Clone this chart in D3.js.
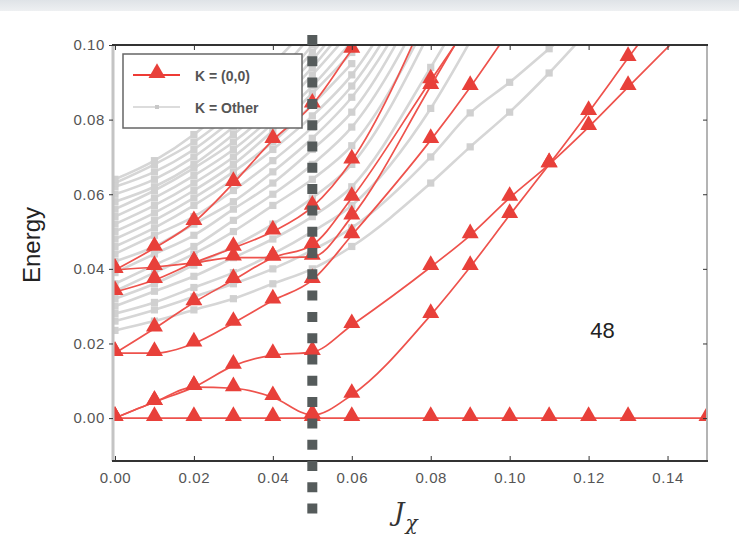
<!DOCTYPE html>
<meta charset="utf-8">
<style>
body { margin: 0; background: #fff; }
text { font-family: "Liberation Sans", Arial, sans-serif; }
.axis .tick text { fill: #555; font-size: 15px; letter-spacing: 0.6px; }
.axis .tick line { stroke: #333; }
.axis .domain { display: none; }
.gline { fill: none; stroke: #d6d6d6; stroke-width: 2.6px; }
.rline { fill: none; stroke: #ee524c; stroke-width: 1.7px; }
</style>
<svg width="739" height="544"></svg>
<script src="https://cdn.jsdelivr.net/npm/d3@7/dist/d3.min.js"></script>
<script>

// J_chi sample points (0.07 and 0.14 were not computed)
var jx = [0, 0.01, 0.02, 0.03, 0.04, 0.05, 0.06, 0.08, 0.09, 0.10, 0.11, 0.12, 0.13, 0.15];
var xTicks = [0, 0.02, 0.04, 0.06, 0.08, 0.10, 0.12, 0.14];
var yTicks = [0, 0.02, 0.04, 0.06, 0.08, 0.10];

// K = (0,0) levels
var redLevels = [
  [0, 0, 0, 0, 0, 0, 0, 0, 0, 0, 0, 0, 0, 0],
  [0, 0.0043, 0.0083, 0.008, 0.0056, 0.0008, 0.0062, 0.0276, 0.0405, 0.0544, 0.068, 0.082, 0.0965, 0.125],
  [0, 0.0043, 0.0083, 0.014, 0.0169, 0.0177, 0.0249, 0.0405, 0.049, 0.059, 0.068, 0.078, 0.0887, 0.11],
  [0.0174, 0.0174, 0.020, 0.0255, 0.0315, 0.037, 0.049, 0.0745, 0.0887, 0.104],
  [0.0174, 0.024, 0.031, 0.037, 0.043, 0.0464, 0.059, 0.0905, 0.106],
  [0.0397, 0.0405, 0.0416, 0.043, 0.043, 0.0432, 0.054, 0.089, 0.107],
  [0.0338, 0.037, 0.0416, 0.0456, 0.050, 0.0566, 0.069, 0.111],
  [0.0397, 0.0456, 0.0525, 0.063, 0.0745, 0.084, 0.0987, 0.125]
];

// K = other levels
var grayLevels = [
  [0.0235, 0.026, 0.029, 0.032, 0.036, 0.040, 0.046, 0.063, 0.0727, 0.082, 0.0925, 0.104],
  [0.026, 0.029, 0.0325, 0.036, 0.040, 0.045, 0.051, 0.070, 0.0818, 0.090, 0.099, 0.108],
  [0.028, 0.031, 0.035, 0.039, 0.044, 0.050, 0.057, 0.083, 0.101],
  [0.030, 0.034, 0.038, 0.043, 0.048, 0.054, 0.062, 0.094, 0.112],
  [0.032, 0.036, 0.041, 0.046, 0.052, 0.059, 0.068, 0.104],
  [0.034, 0.039, 0.044, 0.050, 0.057, 0.064, 0.073, 0.108],
  [0.036, 0.041, 0.046, 0.053, 0.060, 0.068, 0.078, 0.113],
  [0.039, 0.044, 0.049, 0.056, 0.063, 0.072, 0.082, 0.118],
  [0.042, 0.046, 0.052, 0.058, 0.066, 0.075, 0.086, 0.120],
  [0.044, 0.049, 0.054, 0.061, 0.069, 0.078, 0.089, 0.124],
  [0.046, 0.051, 0.057, 0.064, 0.072, 0.081, 0.092, 0.128],
  [0.048, 0.053, 0.059, 0.066, 0.074, 0.084, 0.095],
  [0.050, 0.055, 0.061, 0.068, 0.077, 0.087, 0.098],
  [0.052, 0.057, 0.063, 0.070, 0.079, 0.089, 0.101],
  [0.054, 0.059, 0.065, 0.072, 0.081, 0.092, 0.104],
  [0.056, 0.061, 0.067, 0.074, 0.083, 0.094, 0.107],
  [0.058, 0.062, 0.068, 0.076, 0.085, 0.096, 0.109],
  [0.060, 0.064, 0.070, 0.078, 0.087, 0.098, 0.111],
  [0.062, 0.066, 0.072, 0.080, 0.088, 0.100],
  [0.063, 0.068, 0.074, 0.082, 0.091, 0.103],
  [0.064, 0.069, 0.076, 0.085, 0.095, 0.106]
];

var transition = 0.05;
var sizeLabel = "48";

var svg = d3.select("svg"),
    margin = {top: 45, left: 113},
    width = 594,
    height = 416;

// faint band at the very top of the screenshot
var defs = svg.append("defs");
var grad = defs.append("linearGradient")
    .attr("id", "topband").attr("x1", 0).attr("x2", 0).attr("y1", 0).attr("y2", 1);
grad.append("stop").attr("offset", 0).attr("stop-color", "#dfe3e7");
grad.append("stop").attr("offset", 1).attr("stop-color", "#eef0f2");
svg.append("rect").attr("width", 739).attr("height", 11).attr("fill", "url(#topband)");

defs.append("clipPath").attr("id", "plotclip")
  .append("rect").attr("width", width).attr("height", height);

var g = svg.append("g").attr("transform", "translate(" + margin.left + "," + margin.top + ")");

var x = d3.scaleLinear().domain([-0.0005, 0.15]).range([0, width]),
    y = d3.scaleLinear().domain([-0.0115, 0.10]).range([height, 0]);

function toPoints(vals) {
  return vals.map(function(v, i) { return {x: jx[i], e: v}; });
}

var line = d3.line()
    .curve(d3.curveMonotoneX)
    .x(function(d) { return x(d.x); })
    .y(function(d) { return y(d.e); });

var plot = g.append("g").attr("clip-path", "url(#plotclip)");

// gray levels
var gs = plot.selectAll(".gset").data(grayLevels.map(toPoints)).enter().append("g");
gs.append("path").attr("class", "gline").attr("d", line);
gs.selectAll("path.sq").data(function(d) { return d; }).enter().append("path")
    .attr("class", "sq")
    .attr("d", d3.symbol(d3.symbolSquare, 52))
    .attr("fill", "#d0d0d0")
    .attr("transform", function(d) { return "translate(" + x(d.x) + "," + y(d.e) + ")"; });

// red levels
var rs = plot.selectAll(".rset").data(redLevels.map(toPoints)).enter().append("g");
rs.append("path").attr("class", "rline").attr("d", line);
var tri = d3.symbol(d3.symbolTriangle, 125);
rs.selectAll("path.tri").data(function(d) { return d; }).enter().append("path")
    .attr("class", "tri")
    .attr("d", tri)
    .attr("fill", "#e8403a")
    .attr("transform", function(d) { return "translate(" + x(d.x) + "," + (y(d.e) - 2) + ")"; });

// frame
g.append("line").attr("x1", 0).attr("x2", 0).attr("y1", 0).attr("y2", height)
    .attr("stroke", "#c4c4c4").attr("stroke-width", 3);
g.append("line").attr("x1", width).attr("x2", width).attr("y1", 0).attr("y2", height)
    .attr("stroke", "#b4b4b4").attr("stroke-width", 2);
g.append("line").attr("x1", -1).attr("x2", width + 1).attr("y1", 0).attr("y2", 0)
    .attr("stroke", "#333").attr("stroke-width", 2.2);
g.append("line").attr("x1", -1).attr("x2", width + 1).attr("y1", height).attr("y2", height)
    .attr("stroke", "#333").attr("stroke-width", 2.2);

// axes
g.append("g").attr("class", "axis")
    .attr("transform", "translate(0," + height + ")")
    .call(d3.axisBottom(x).tickValues(xTicks).tickFormat(d3.format(".2f"))
      .tickSizeInner(-5).tickSizeOuter(0).tickPadding(11));
g.append("g").attr("class", "axis")
    .call(d3.axisTop(x).tickValues(xTicks).tickFormat("").tickSizeInner(-5).tickSizeOuter(0));
g.append("g").attr("class", "axis")
    .call(d3.axisLeft(y).tickValues(yTicks).tickFormat(d3.format(".2f"))
      .tickSizeInner(4).tickSizeOuter(0).tickPadding(4));
g.append("g").attr("class", "axis")
    .attr("transform", "translate(" + width + ",0)")
    .call(d3.axisRight(y).tickValues(yTicks).tickFormat("").tickSizeInner(-4).tickSizeOuter(0));

// axis titles
svg.append("text")
    .attr("transform", "translate(40," + 245 + ") rotate(-90)")
    .attr("text-anchor", "middle")
    .attr("fill", "#222")
    .style("font-size", "24px")
    .text("Energy");

var xl = svg.append("text")
    .attr("x", 394).attr("y", 521)
    .attr("fill", "#333")
    .style("font-family", "'DejaVu Serif', 'Liberation Serif', serif")
    .style("font-style", "italic");
xl.append("tspan").style("font-size", "26px").text("J");
xl.append("tspan").attr("dy", 9).attr("dx", 1).style("font-size", "20px").text("\u03c7");

// system size label
g.append("text")
    .attr("x", x(0.1235)).attr("y", y(0.0215))
    .attr("text-anchor", "middle")
    .attr("fill", "#222")
    .style("font-size", "22px")
    .text(sizeLabel);

// legend
var lg = svg.append("g").attr("transform", "translate(123,54)");
lg.append("rect").attr("width", 179).attr("height", 74)
    .attr("fill", "#fff").attr("stroke", "#666").attr("stroke-width", 1.5);
lg.append("line").attr("x1", 10).attr("x2", 57).attr("y1", 21).attr("y2", 21)
    .attr("stroke", "#ee3b35").attr("stroke-width", 2);
lg.append("path").attr("d", tri).attr("fill", "#e8403a").attr("transform", "translate(34,19)");
lg.append("line").attr("x1", 10).attr("x2", 57).attr("y1", 53).attr("y2", 53)
    .attr("stroke", "#d0d0d0").attr("stroke-width", 1.5);
lg.append("path").attr("d", d3.symbol(d3.symbolSquare, 16)).attr("fill", "#c8c8c8")
    .attr("transform", "translate(34,53)");
lg.append("text").attr("x", 72).attr("y", 27).attr("fill", "#555")
    .style("font-size", "14px").style("font-weight", "bold").text("K = (0,0)");
lg.append("text").attr("x", 72).attr("y", 59).attr("fill", "#555")
    .style("font-size", "14px").style("font-weight", "bold").text("K = Other");

// transition marker
svg.append("line")
    .attr("x1", margin.left + x(transition)).attr("x2", margin.left + x(transition))
    .attr("y1", 35).attr("y2", 518)
    .attr("stroke", "#555b5b").attr("stroke-width", 10)
    .attr("stroke-dasharray", "10,11.3");

</script>
